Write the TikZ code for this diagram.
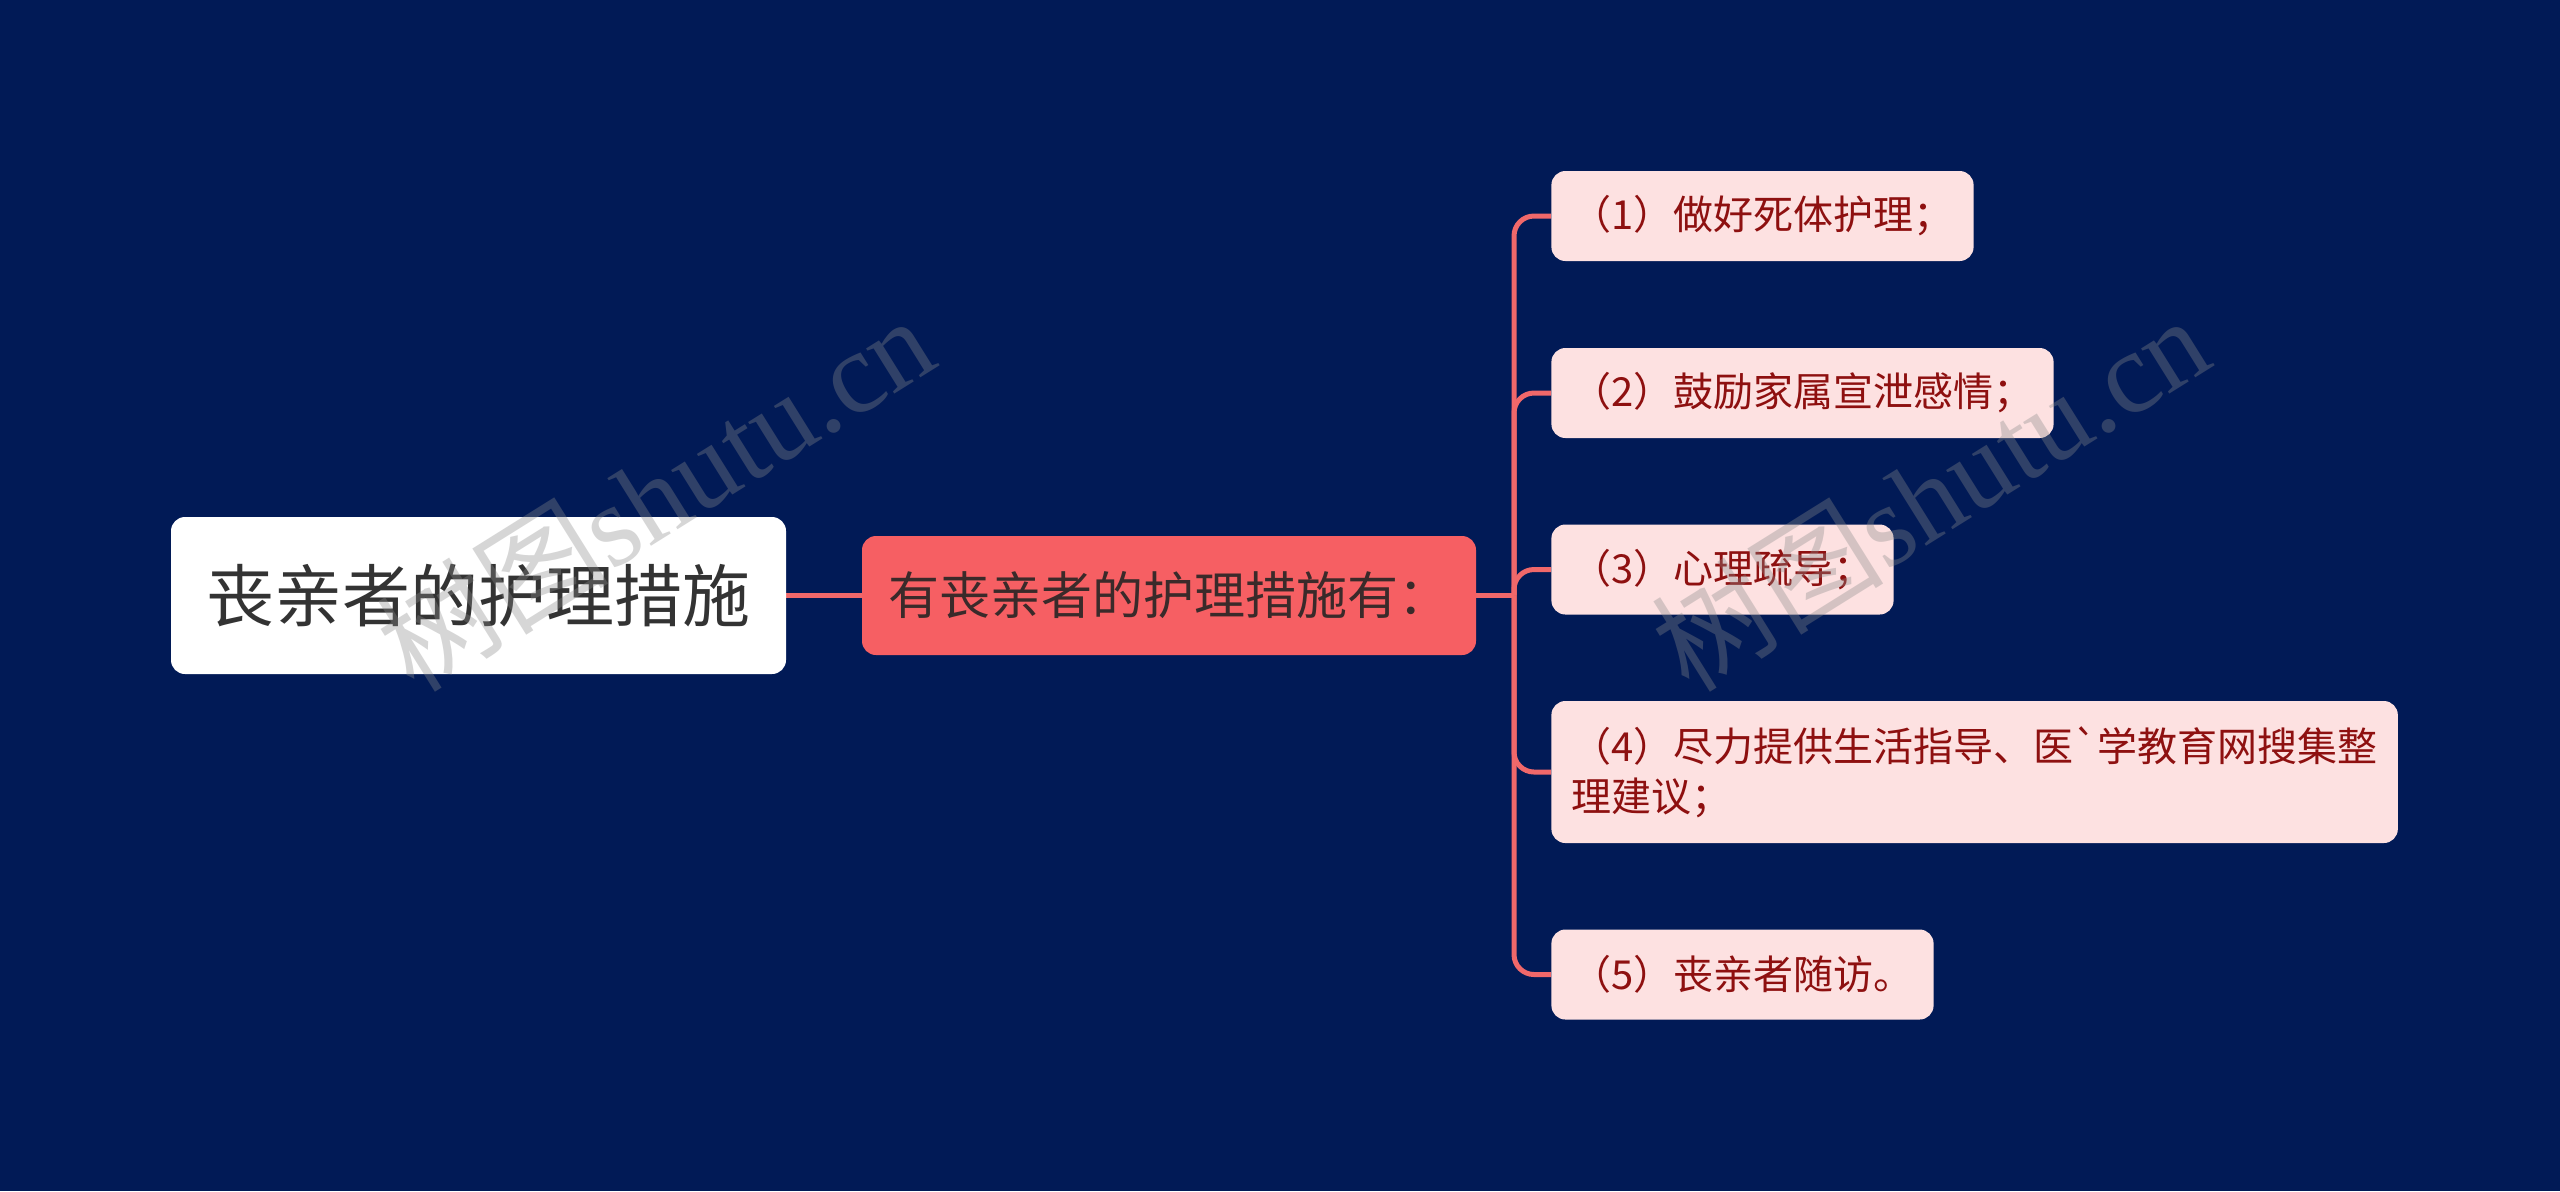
\documentclass[tikz,border=0pt]{standalone}
\usepackage{fontspec}
\newfontfamily\cjk{Noto Sans CJK SC}[Ligatures=TeXOff]
\newfontfamily\wmserif{Liberation Serif}
\definecolor{bg}{HTML}{011A56}
\definecolor{linec}{HTML}{F0686A}
\definecolor{midfill}{HTML}{F65F63}
\definecolor{leaffill}{HTML}{FDE1E1}
\definecolor{leaftext}{HTML}{8E1010}
\definecolor{roottext}{HTML}{333333}
\definecolor{midtext}{HTML}{3A2A2A}
\definecolor{wmgray}{HTML}{8A8A8A}
\begin{document}
\begin{tikzpicture}[x=0.5pt,y=-0.5pt,
  rootbox/.style={fill=white, rounded corners=7pt, minimum width=307.5pt, minimum height=78.5pt, inner sep=0pt,
    font=\cjk\fontsize{34}{40}\selectfont, text=roottext},
  midbox/.style={fill=midfill, rounded corners=7pt, minimum width=307pt, minimum height=59.5pt, inner sep=0pt,
    font=\cjk\fontsize{25.5}{30}\selectfont, text=midtext},
  leafbox/.style={fill=leaffill, rounded corners=7pt, anchor=west, minimum height=45pt, inner xsep=10pt, inner ysep=0pt,
    font=\cjk\fontsize{20}{25}\selectfont, text=leaftext, align=left},
  conn/.style={draw=linec, line width=2.5pt, rounded corners=10pt},
  wm/.style={text=wmgray, opacity=0.35, font=\fontsize{58}{58}\selectfont, inner sep=0pt}
]
\fill[bg] (0,0) rectangle (2560,1191);
\useasboundingbox (0,0) rectangle (2560,1191);

\coordinate (J) at (1514,595.5);
\path (478.5,595.5) coordinate (rootc) (1169,595.5) coordinate (midc);
\path (1551,216) coordinate (p1) (1551,393) coordinate (p2) (1551,569.5) coordinate (p3)
      (1551,772) coordinate (p4) (1551,974.5) coordinate (p5);

% connectors first (drawn under the nodes)
\draw[conn] (rootc) -- (midc);
\draw[conn] (midc) -- (J);
\foreach \n in {1,...,5}{
  \draw[conn] (J) |- (p\n);
}

\node[rootbox] (root) at (rootc) {丧亲者的护理措施};
\node[midbox] (mid) at (midc) {有丧亲者的护理措施有：};
\node[leafbox] (l1) at (p1) {（1）做好死体护理；};
\node[leafbox] (l2) at (p2) {（2）鼓励家属宣泄感情；};
\node[leafbox] (l3) at (p3) {（3）心理疏导；};
\node[leafbox, minimum height=71pt] (l4) at (p4) {（4）尽力提供生活指导、医`学教育网搜集整\\理建议；};
\node[leafbox] (l5) at (p5) {（5）丧亲者随访。};

\node[wm, rotate=32] (wm1) at (655,492) {{\cjk 树图}{\wmserif shutu.cn}};
\node[wm, rotate=32] (wm2) at (1930,492) {{\cjk 树图}{\wmserif shutu.cn}};
\end{tikzpicture}
\end{document}
